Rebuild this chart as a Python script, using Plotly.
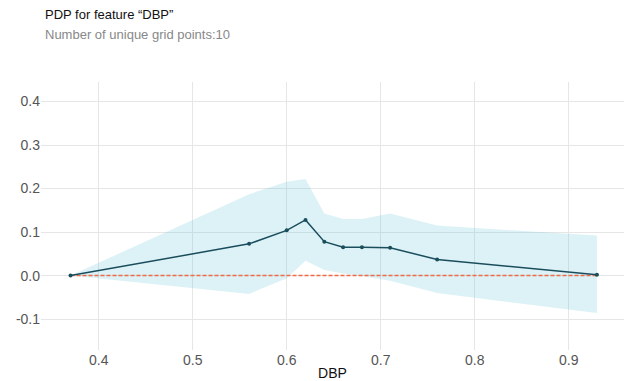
import plotly.graph_objects as go

# Partial dependence of the prediction on DBP
grid_points = [0.37, 0.56, 0.60, 0.62, 0.64, 0.66, 0.68, 0.71, 0.76, 0.93]
pdp_values = [0.0, 0.073, 0.104, 0.128, 0.078, 0.065, 0.065, 0.064, 0.037, 0.002]
upper_band = [0.0, 0.187, 0.216, 0.222, 0.143, 0.130, 0.130, 0.143, 0.115, 0.092]
lower_band = [0.0, -0.042, -0.006, 0.034, 0.013, 0.005, -0.001, -0.012, -0.040, -0.086]

x_ticks = [0.4, 0.5, 0.6, 0.7, 0.8, 0.9]
y_ticks = [-0.1, 0.0, 0.1, 0.2, 0.3, 0.4]

LINE_COLOR = "#1A4E5D"
FILL_COLOR = "rgba(102,194,215,0.22)"
ZERO_COLOR = "#F06A45"
FONT = "Arial, Liberation Sans, sans-serif"

fig = go.Figure()

# confidence band
fig.add_trace(go.Scatter(
    x=grid_points, y=upper_band, mode="lines",
    line=dict(width=0), hoverinfo="skip", showlegend=False,
))
fig.add_trace(go.Scatter(
    x=grid_points, y=lower_band, mode="lines",
    line=dict(width=0), fill="tonexty", fillcolor=FILL_COLOR,
    hoverinfo="skip", showlegend=False,
))
# zero reference line
fig.add_trace(go.Scatter(
    x=[grid_points[0], grid_points[-1]], y=[0, 0], mode="lines",
    line=dict(color=ZERO_COLOR, width=1.5, dash="4px,2px"),
    hoverinfo="skip", showlegend=False,
))
# PDP curve
fig.add_trace(go.Scatter(
    x=grid_points, y=pdp_values, mode="lines+markers",
    line=dict(color=LINE_COLOR, width=1.5),
    marker=dict(color=LINE_COLOR, size=4),
    showlegend=False,
))

fig.update_layout(
    width=624, height=381,
    margin=dict(l=41, r=0, t=82, b=31),
    paper_bgcolor="white", plot_bgcolor="white",
    font=dict(family=FONT, color="#555555", size=14),
)
fig.add_annotation(text="PDP for feature \u201cDBP\u201d", xref="paper", yref="paper",
                   x=0.0, y=1.0, xanchor="left", yanchor="middle", showarrow=False,
                   xshift=2, yshift=82 - 14, font=dict(size=13, color="#111111"))
fig.add_annotation(text="Number of unique grid points:10", xref="paper", yref="paper",
                   x=0.0, y=1.0, xanchor="left", yanchor="middle", showarrow=False,
                   xshift=2, yshift=82 - 34, font=dict(size=13, color="#888888"))

fig.update_xaxes(
    range=[0.3386, 0.9588], tickvals=x_ticks, ticktext=[f"{v:.1f}" for v in x_ticks],
    showgrid=True, gridcolor="#e6e6e6", gridwidth=1,
    zeroline=False, showline=False, ticks="", ticklabelstandoff=0,
    title=dict(text="DBP", font=dict(size=14, color="#111111"), standoff=6),
    automargin=False,
)
fig.update_yaxes(
    range=[-0.171, 0.445], tickvals=y_ticks, ticktext=[f"{v:.1f}" for v in y_ticks],
    showgrid=True, gridcolor="#e6e6e6", gridwidth=1,
    zeroline=False, showline=False, ticks="",
    automargin=False,
)

fig.write_html("out.html")
